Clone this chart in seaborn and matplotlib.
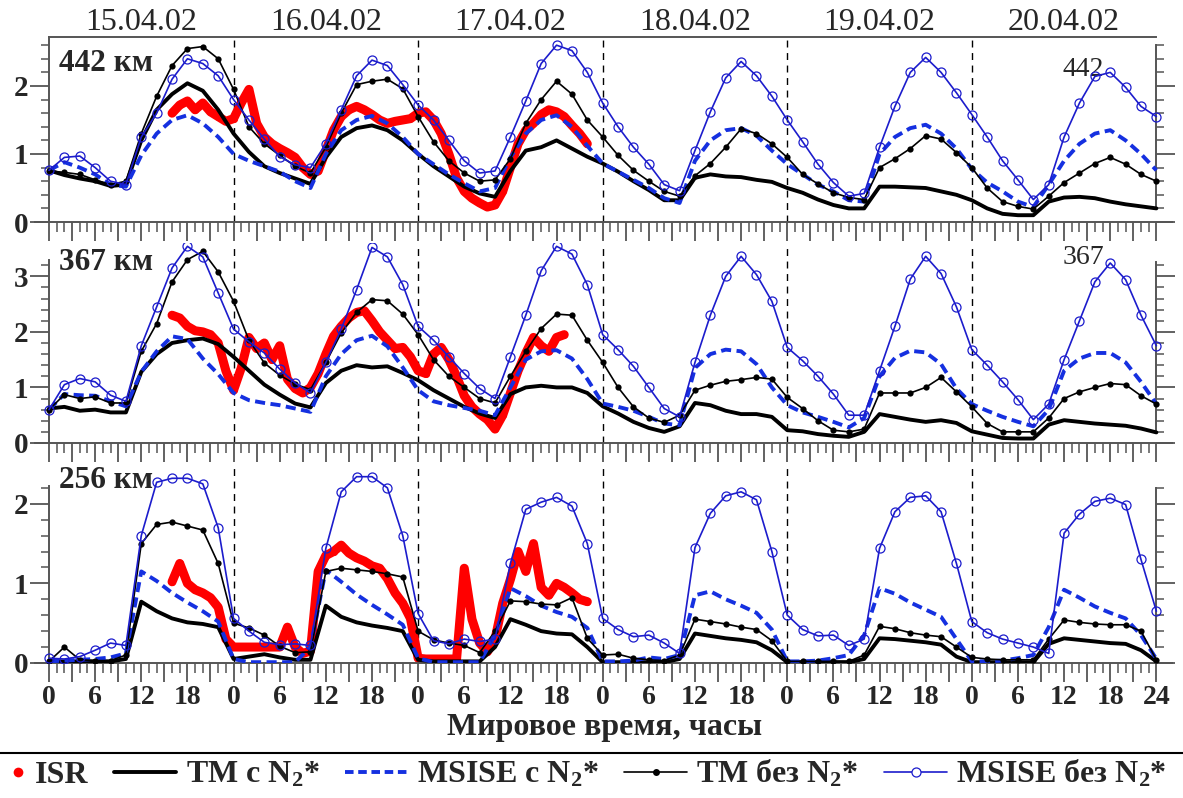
import numpy as np
import pandas as pd
import matplotlib
matplotlib.use('Agg')
import matplotlib.pyplot as plt
from matplotlib.lines import Line2D
from matplotlib.legend_handler import HandlerLine2D
from matplotlib.ticker import FixedLocator
import seaborn as sns

sns.set_style('ticks')
plt.rcParams['font.family'] = ['Liberation Serif', 'DejaVu Serif']
plt.rcParams['font.weight'] = 'bold'
plt.rcParams['mathtext.fontset'] = 'custom'
plt.rcParams['mathtext.rm'] = 'Liberation Serif:bold'
plt.rcParams['mathtext.bf'] = 'Liberation Serif:bold'
plt.rcParams['mathtext.it'] = 'Liberation Serif:bold:italic'

# === Данные (часы от 00 UT 15.04.02, шаг 2 ч) ===
hours = list(range(0, 145, 2))
dates = ['15.04.02', '16.04.02', '17.04.02', '18.04.02', '19.04.02', '20.04.02']

# --- 442 км ---
tm_442 = [0.76, 0.69, 0.64, 0.60, 0.53, 0.55, 1.20, 1.65, 1.88, 2.04, 1.93, 1.65,
          1.30, 1.03, 0.82, 0.72, 0.64, 0.56, 0.95, 1.25, 1.38, 1.42, 1.35, 1.20,
          1.00, 0.82, 0.67, 0.52, 0.42, 0.37, 0.75, 1.05, 1.10, 1.20, 1.08, 0.96,
          0.86, 0.74, 0.60, 0.47, 0.32, 0.32, 0.65, 0.70, 0.67, 0.66, 0.62, 0.59,
          0.50, 0.43, 0.33, 0.25, 0.20, 0.20, 0.52, 0.52, 0.51, 0.50, 0.45, 0.40,
          0.32, 0.20, 0.12, 0.10, 0.10, 0.30, 0.36, 0.37, 0.35, 0.30, 0.26, 0.23,
          0.20]
ms_442 = [0.76, 0.88, 0.80, 0.70, 0.55, 0.52, 0.98, 1.30, 1.50, 1.57, 1.45, 1.25,
          1.00, 0.90, 0.82, 0.74, 0.60, 0.50, 1.00, 1.35, 1.50, 1.56, 1.45, 1.25,
          1.00, 0.85, 0.70, 0.57, 0.45, 0.50, 0.95, 1.30, 1.50, 1.57, 1.40, 1.12,
          0.86, 0.74, 0.62, 0.50, 0.35, 0.28, 0.90, 1.20, 1.35, 1.38, 1.27, 1.05,
          0.85, 0.70, 0.55, 0.45, 0.32, 0.30, 1.00, 1.25, 1.38, 1.43, 1.30, 1.08,
          0.78, 0.58, 0.45, 0.30, 0.22, 0.55, 0.90, 1.15, 1.30, 1.35, 1.20, 1.00,
          0.76]
tb_442 = [0.75, 0.73, 0.70, 0.62, 0.55, 0.60, 1.30, 1.85, 2.30, 2.55, 2.58, 2.40,
          1.95, 1.40, 1.15, 0.98, 0.82, 0.72, 1.10, 1.60, 2.02, 2.07, 2.10, 1.96,
          1.55, 1.18, 0.90, 0.72, 0.60, 0.62, 0.93, 1.45, 1.80, 2.07, 1.88, 1.50,
          1.25, 0.98, 0.76, 0.60, 0.45, 0.38, 0.68, 0.86, 1.10, 1.37, 1.30, 1.15,
          0.95, 0.70, 0.56, 0.43, 0.36, 0.33, 0.80, 0.93, 1.08, 1.27, 1.22, 1.02,
          0.80, 0.50, 0.30, 0.23, 0.19, 0.38, 0.58, 0.72, 0.86, 0.95, 0.85, 0.70,
          0.60]
mb_442 = [0.76, 0.95, 0.97, 0.80, 0.60, 0.55, 1.25, 1.60, 2.10, 2.40, 2.33, 2.15,
          1.80, 1.50, 1.22, 0.96, 0.84, 0.80, 1.15, 1.65, 2.15, 2.38, 2.30, 2.02,
          1.72, 1.50, 1.20, 0.90, 0.72, 0.75, 1.25, 1.78, 2.33, 2.60, 2.52, 2.20,
          1.75, 1.40, 1.10, 0.85, 0.55, 0.46, 1.05, 1.62, 2.12, 2.36, 2.15, 1.85,
          1.50, 1.18, 0.85, 0.58, 0.38, 0.42, 1.10, 1.70, 2.20, 2.42, 2.20, 1.90,
          1.58, 1.25, 0.90, 0.62, 0.33, 0.55, 1.25, 1.75, 2.14, 2.20, 1.98, 1.70,
          1.55]
isr_hours_442 = list(range(16, 71))
isr_442 = [1.60, 1.72, 1.78, 1.65, 1.75, 1.62, 1.55, 1.48, 1.52, 1.75, 1.95, 1.45,
           1.25, 1.15, 1.08, 1.02, 0.95, 0.80, 0.70, 0.75, 1.05, 1.35, 1.55, 1.65,
           1.70, 1.65, 1.58, 1.50, 1.45, 1.48, 1.50, 1.52, 1.60, 1.62, 1.50, 1.30,
           1.00, 0.65, 0.45, 0.35, 0.28, 0.22, 0.25, 0.45, 0.80, 1.15, 1.35, 1.45,
           1.58, 1.65, 1.62, 1.55, 1.42, 1.30, 1.15]

# --- 367 км ---
tm_367 = [0.62, 0.65, 0.58, 0.60, 0.55, 0.55, 1.28, 1.60, 1.80, 1.85, 1.88, 1.78,
          1.55, 1.30, 1.05, 0.87, 0.71, 0.64, 1.08, 1.30, 1.40, 1.36, 1.38, 1.26,
          1.13, 0.95, 0.80, 0.65, 0.53, 0.45, 0.88, 1.00, 1.03, 1.00, 1.00, 0.90,
          0.66, 0.53, 0.38, 0.27, 0.20, 0.30, 0.72, 0.68, 0.58, 0.52, 0.52, 0.47,
          0.23, 0.21, 0.16, 0.13, 0.11, 0.20, 0.52, 0.47, 0.42, 0.38, 0.41, 0.36,
          0.21, 0.15, 0.09, 0.08, 0.08, 0.33, 0.41, 0.38, 0.35, 0.33, 0.31, 0.26,
          0.19]
ms_367 = [0.60, 0.88, 0.86, 0.85, 0.75, 0.66, 1.28, 1.65, 1.92, 1.87, 1.52, 1.24,
          0.90, 0.77, 0.72, 0.68, 0.62, 0.56, 1.20, 1.60, 1.85, 1.93, 1.74, 1.36,
          0.95, 0.75, 0.68, 0.63, 0.58, 0.50, 1.00, 1.50, 1.65, 1.67, 1.52, 1.15,
          0.71, 0.65, 0.58, 0.47, 0.35, 0.32, 1.35, 1.60, 1.68, 1.65, 1.42, 1.00,
          0.68, 0.55, 0.47, 0.38, 0.28, 0.45, 1.20, 1.53, 1.66, 1.63, 1.42, 0.98,
          0.70, 0.58, 0.47, 0.38, 0.30, 0.60, 1.30, 1.52, 1.62, 1.62, 1.45, 1.10,
          0.70]
tb_367 = [0.60, 0.87, 0.80, 0.83, 0.72, 0.72, 1.65, 2.15, 2.90, 3.30, 3.45, 3.08,
          2.55, 1.85, 1.44, 1.22, 1.06, 0.96, 1.45, 1.98, 2.35, 2.58, 2.56, 2.32,
          1.95, 1.50, 1.20, 1.00, 0.80, 0.72, 1.20, 1.65, 2.06, 2.32, 2.30, 1.85,
          1.45, 1.00, 0.65, 0.45, 0.37, 0.50, 0.95, 1.04, 1.11, 1.14, 1.18, 1.15,
          0.82, 0.62, 0.40, 0.23, 0.20, 0.25, 0.90, 0.90, 0.90, 1.00, 1.18, 0.92,
          0.65, 0.35, 0.20, 0.20, 0.20, 0.45, 0.80, 0.92, 1.00, 1.07, 1.05, 0.85,
          0.70]
mb_367 = [0.60, 1.05, 1.16, 1.10, 0.86, 0.75, 1.75, 2.45, 3.15, 3.54, 3.35, 2.70,
          2.05, 1.82, 1.62, 1.33, 1.08, 0.90, 1.45, 2.05, 2.76, 3.52, 3.35, 2.85,
          2.10, 1.85, 1.55, 1.25, 0.98, 0.80, 1.55, 2.30, 3.10, 3.54, 3.40, 2.85,
          1.95, 1.68, 1.38, 1.00, 0.62, 0.47, 1.45, 2.30, 3.00, 3.36, 3.03, 2.55,
          1.72, 1.48, 1.20, 0.88, 0.50, 0.50, 1.30, 2.10, 2.95, 3.36, 3.05, 2.45,
          1.68, 1.40, 1.10, 0.78, 0.42, 0.70, 1.50, 2.20, 2.90, 3.24, 2.94, 2.30,
          1.75]
isr_hours_367 = list(range(16, 68))
isr_367 = [2.30, 2.25, 2.10, 2.02, 2.00, 1.95, 1.80, 1.30, 0.95, 1.35, 1.90, 1.70,
           1.80, 1.50, 1.75, 1.15, 0.98, 0.90, 1.00, 1.25, 1.60, 1.92, 2.10, 2.25,
           2.35, 2.38, 2.20, 2.00, 1.85, 1.70, 1.72, 1.55, 1.30, 1.25, 1.60, 1.72,
           1.50, 1.20, 0.85, 0.65, 0.52, 0.42, 0.25, 0.50, 0.90, 1.30, 1.62, 1.90,
           1.75, 1.65, 1.90, 1.95]

# --- 256 км ---
tm_256 = [0.02, 0.02, 0.02, 0.02, 0.02, 0.05, 0.77, 0.65, 0.56, 0.51, 0.49, 0.45,
          0.05, 0.08, 0.11, 0.07, 0.04, 0.04, 0.72, 0.58, 0.51, 0.47, 0.44, 0.40,
          0.04, 0.02, 0.02, 0.02, 0.02, 0.20, 0.55, 0.48, 0.40, 0.37, 0.36, 0.20,
          0.01, 0.01, 0.01, 0.01, 0.01, 0.05, 0.37, 0.34, 0.31, 0.29, 0.26, 0.16,
          0.01, 0.01, 0.01, 0.01, 0.01, 0.05, 0.31, 0.30, 0.28, 0.26, 0.23, 0.08,
          0.01, 0.01, 0.01, 0.01, 0.01, 0.24, 0.31, 0.29, 0.27, 0.25, 0.24, 0.16,
          0.02]
ms_256 = [0.02, 0.03, 0.04, 0.05, 0.07, 0.12, 1.15, 1.03, 0.88, 0.76, 0.65, 0.52,
          0.05, 0.01, 0.01, 0.01, 0.01, 0.20, 1.17, 1.02, 0.86, 0.73, 0.61, 0.48,
          0.06, 0.01, 0.01, 0.01, 0.01, 0.35, 0.94, 0.84, 0.72, 0.64, 0.58, 0.44,
          0.02, 0.02, 0.03, 0.07, 0.05, 0.10, 0.85, 0.90, 0.80, 0.72, 0.63, 0.42,
          0.02, 0.02, 0.03, 0.06, 0.10, 0.35, 0.94, 0.87, 0.76, 0.67, 0.58, 0.30,
          0.02, 0.02, 0.03, 0.06, 0.10, 0.45, 0.92, 0.82, 0.71, 0.63, 0.56, 0.35,
          0.05]
tb_256 = [0.02, 0.20, 0.04, 0.03, 0.03, 0.10, 1.50, 1.74, 1.77, 1.72, 1.67, 1.25,
          0.50, 0.44, 0.35, 0.21, 0.13, 0.14, 1.15, 1.19, 1.17, 1.15, 1.12, 1.08,
          0.40, 0.29, 0.25, 0.22, 0.13, 0.40, 0.78, 0.77, 0.74, 0.73, 0.82, 0.31,
          0.10, 0.11, 0.06, 0.04, 0.03, 0.10, 0.55, 0.52, 0.49, 0.45, 0.42, 0.28,
          0.02, 0.02, 0.02, 0.02, 0.02, 0.10, 0.46, 0.43, 0.38, 0.35, 0.33, 0.20,
          0.07, 0.05, 0.04, 0.04, 0.04, 0.30, 0.54, 0.51, 0.49, 0.48, 0.48, 0.40,
          0.04]
mb_256 = [0.06, 0.05, 0.08, 0.16, 0.25, 0.22, 1.60, 2.27, 2.32, 2.32, 2.25, 1.70,
          0.56, 0.40, 0.26, 0.23, 0.24, 0.22, 1.44, 2.15, 2.34, 2.34, 2.20, 1.60,
          0.62, 0.28, 0.24, 0.30, 0.27, 0.30, 1.25, 1.93, 2.02, 2.08, 1.97, 1.50,
          0.56, 0.42, 0.33, 0.35, 0.25, 0.12, 1.45, 1.88, 2.10, 2.15, 2.05, 1.40,
          0.60, 0.42, 0.34, 0.35, 0.22, 0.30, 1.44, 1.90, 2.08, 2.10, 1.90, 1.25,
          0.52, 0.38, 0.30, 0.25, 0.20, 0.12, 1.63, 1.87, 2.03, 2.07, 1.99, 1.30,
          0.65]
isr_hours_256 = list(range(16, 71))
isr_256 = [1.02, 1.25, 1.00, 0.92, 0.88, 0.82, 0.70, 0.30, 0.20, 0.20, 0.20, 0.20,
           0.20, 0.20, 0.20, 0.45, 0.20, 0.12, 0.15, 1.15, 1.35, 1.40, 1.48, 1.38,
           1.32, 1.28, 1.22, 1.19, 1.06, 0.88, 0.75, 0.56, 0.06, 0.05, 0.05, 0.05,
           0.05, 0.05, 1.19, 0.55, 0.25, 0.14, 0.30, 0.75, 1.05, 1.40, 1.15, 1.50,
           0.95, 0.85, 1.00, 0.95, 0.88, 0.80, 0.77]

# === Оформление ===
BLUE_D = '#1530e0'
BLUE_C = '#1c1ccc'
GREY = '#555555'

panels = [
    dict(tm=tm_442, ms=ms_442, tb=tb_442, mb=mb_442, ix=isr_hours_442, iy=isr_442,
         rect=[0.0294, 0.7218, 0.9611, 0.2318], ylim=2.72, ltop=2.72, rtop=2.6,
         label='442 км', ly=2.33, right='442', ry=2.24),
    dict(tm=tm_367, ms=ms_367, tb=tb_367, mb=mb_367, ix=isr_hours_367, iy=isr_367,
         rect=[0.0294, 0.4449, 0.9611, 0.2506], ylim=3.6, ltop=3.3, rtop=3.25,
         label='367 км', ly=3.24, right='367', ry=3.33),
    dict(tm=tm_256, ms=ms_256, tb=tb_256, mb=mb_256, ix=isr_hours_256, iy=isr_256,
         rect=[0.0294, 0.1692, 0.9611, 0.2494], ylim=2.5, ltop=2.22, rtop=2.2,
         label='256 км', ly=2.29, right=None, ry=None),
]


class DotRight(HandlerLine2D):
    # точка ISR ближе к подписи, как в оригинале
    def create_artists(self, legend, orig_handle, xdescent, ydescent, width, height, fontsize, trans):
        arts = super().create_artists(legend, orig_handle, xdescent, ydescent,
                                      width, height, fontsize, trans)
        x = arts[0].get_xdata()
        arts[0].set_xdata([x[0], x[0] + 0.88 * (x[-1] - x[0]), x[-1]])
        return arts


fig = plt.figure(figsize=(11.83, 7.98), dpi=100)
axes = []
for i, p in enumerate(panels):
    ax = fig.add_axes(p['rect'])
    axes.append(ax)
    df = pd.DataFrame({'h': hours, 'tm': p['tm'], 'ms': p['ms'], 'tb': p['tb'], 'mb': p['mb']})
    isr = pd.DataFrame({'h': p['ix'], 'v': p['iy']})

    for d in [24, 48, 72, 96, 120]:
        ax.axvline(d, color='black', lw=1.0, ls=(0, (5, 4)), zorder=1)

    sns.lineplot(data=isr, x='h', y='v', ax=ax, color='#ff0000', lw=6.5,
                 marker='o', markersize=5, markeredgewidth=0, solid_capstyle='round', zorder=2)
    sns.lineplot(data=df, x='h', y='tm', ax=ax, color='black', lw=2.8, zorder=3)
    sns.lineplot(data=df, x='h', y='ms', ax=ax, color=BLUE_D, lw=2.8,
                 linestyle=(0, (2.6, 1.4)), zorder=3)
    sns.lineplot(data=df, x='h', y='tb', ax=ax, color='black', lw=1.2,
                 marker='o', markersize=4.5, markeredgewidth=0, zorder=4)
    sns.lineplot(data=df, x='h', y='mb', ax=ax, color=BLUE_C, lw=1.2,
                 marker='o', markersize=6.5, markerfacecolor='none',
                 markeredgecolor=BLUE_C, markeredgewidth=0.9, zorder=4)

    ax.set_xlim(-1.85, 146)
    ax.set_ylim(0, p['ylim'])
    ax.set_xlabel('')
    ax.set_ylabel('')

    # оси
    for s in ['left', 'right', 'bottom', 'top']:
        ax.spines[s].set_color(GREY)
        ax.spines[s].set_linewidth(1.4)
    ax.spines['left'].set_position(('data', 0))
    ax.spines['left'].set_bounds(0, p['ltop'])
    ax.spines['right'].set_position(('data', 144))
    ax.spines['right'].set_bounds(0.2, p['rtop'])
    if i == 0:
        ax.spines['top'].set_bounds(0, 144)
    else:
        ax.spines['top'].set_visible(False)

    ymaj = [v for v in range(0, 4) if v <= p['ltop']]
    ymin = [round(0.2 * k, 1) for k in range(1, int(p['ltop'] / 0.2 + 1e-6) + 1)]
    ax.yaxis.set_major_locator(FixedLocator(ymaj))
    ax.yaxis.set_minor_locator(FixedLocator(ymin))
    ax.tick_params(axis='y', which='major', direction='out', length=14, width=1.3,
                   color=GREY, labelsize=21, pad=1, right=True, labelright=False)
    ax.tick_params(axis='y', which='minor', direction='out', length=6, width=1.1,
                   color=GREY, right=True)

    xmaj = list(range(0, 145, 3))
    ax.xaxis.set_major_locator(FixedLocator(xmaj))
    ax.xaxis.set_minor_locator(FixedLocator(list(range(0, 145))))
    ax.tick_params(axis='x', which='major', direction='out', length=14, width=1.3,
                   color=GREY, labelsize=20, pad=2)
    ax.tick_params(axis='x', which='minor', direction='out', length=7, width=1.1, color=GREY)
    if i < 2:
        ax.tick_params(axis='x', labelbottom=False)
    else:
        ax.set_xticklabels([('24' if h == 144 else str(h % 24)) if h % 6 == 0 else '' for h in xmaj])

    ax.text(1.3, p['ly'], p['label'], fontsize=22.5, fontweight='bold', ha='left', va='center')
    if p['right']:
        ax.text(134.5, p['ry'], p['right'], fontsize=20, fontweight='normal', ha='center', va='center')

# даты сверху
for k, d in enumerate(dates):
    axes[0].text(12 + 24 * k, 1.0, d, transform=axes[0].get_xaxis_transform(),
                 ha='center', va='bottom', fontsize=23, fontweight='normal')

fig.text(0.511, 1 - 728 / 798, 'Мировое время, часы', ha='center', va='center',
         fontsize=23, fontweight='bold')

fig.add_artist(Line2D([0.0, 1.0], [1 - 753 / 798] * 2, transform=fig.transFigure,
                      color='black', lw=1.5))

handles = [
    Line2D([], [], color='#ff0000', marker='o', ls='none', ms=7, mew=0),
    Line2D([], [], color='black', lw=2.8),
    Line2D([], [], color=BLUE_D, lw=2.8, ls=(0, (2.2, 1.2))),
    Line2D([], [], color='black', lw=1.2, marker='o', ms=5, mew=0),
    Line2D([], [], color=BLUE_C, lw=1.2, marker='o', ms=6.5, mfc='white', mec=BLUE_C, mew=0.9),
]
labels = ['ISR', r'TM с N$_2$*', r'MSISE с N$_2$*', r'TM без N$_2$*', r'MSISE без N$_2$*']
fig.legend(handles, labels, loc='center', bbox_to_anchor=(0.4776, 1 - 774 / 798), ncol=5,
           frameon=False, fontsize=23, handlelength=1.95, handletextpad=0.3,
           columnspacing=0.8, borderpad=0, borderaxespad=0,
           handler_map={handles[0]: DotRight()})

plt.savefig('out.png', dpi=100)
